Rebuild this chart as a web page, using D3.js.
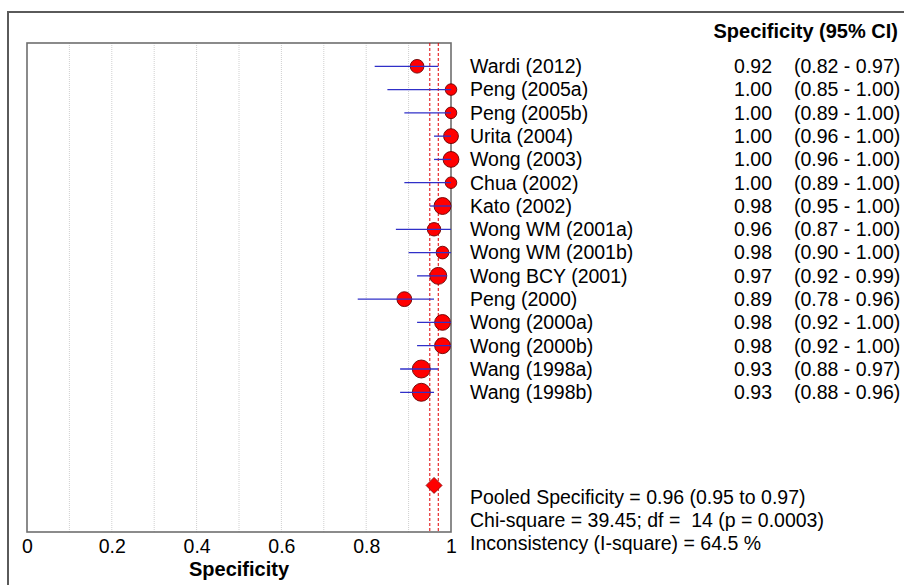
<!DOCTYPE html>
<html>
<head>
<meta charset="utf-8">
<script src="https://cdn.jsdelivr.net/npm/d3@7/dist/d3.min.js"></script>
<style>
  html, body { margin: 0; padding: 0; background: #fff; }
  svg { display: block; font-family: "Liberation Sans", Arial, sans-serif; }
</style>
</head>
<body>
<svg id="chart" width="904" height="585"></svg>
<script>
// ---- data ----
const studies = ["Wardi (2012)", "Peng (2005a)", "Peng (2005b)", "Urita (2004)", "Wong (2003)",
  "Chua (2002)", "Kato (2002)", "Wong WM (2001a)", "Wong WM (2001b)", "Wong BCY (2001)",
  "Peng (2000)", "Wong (2000a)", "Wong (2000b)", "Wang (1998a)", "Wang (1998b)"];
const specificity = [0.92, 1.00, 1.00, 1.00, 1.00, 1.00, 0.98, 0.96, 0.98, 0.97, 0.89, 0.98, 0.98, 0.93, 0.93];
const ciLower = [0.82, 0.85, 0.89, 0.96, 0.96, 0.89, 0.95, 0.87, 0.90, 0.92, 0.78, 0.92, 0.92, 0.88, 0.88];
const ciUpper = [0.97, 1.00, 1.00, 1.00, 1.00, 1.00, 1.00, 1.00, 1.00, 0.99, 0.96, 1.00, 1.00, 0.97, 0.96];
const weights = [5.6, 4.0, 4.0, 6.6, 7.5, 4.0, 8.6, 5.4, 4.8, 8.6, 6.6, 7.5, 7.5, 9.7, 9.7];
const pooled = 0.96, pooledLower = 0.95, pooledUpper = 0.97;
const xTicks = [0, 0.2, 0.4, 0.6, 0.8, 1];
const gridTicks = [0.1, 0.2, 0.3, 0.4, 0.5, 0.6, 0.7, 0.8, 0.9];
const headerText = "Specificity (95% CI)";
const axisTitle = "Specificity";
const footer = [
  "Pooled Specificity = 0.96 (0.95 to 0.97)",
  "Chi-square = 39.45; df =  14 (p = 0.0003)",
  "Inconsistency (I-square) = 64.5 %"
];

// ---- layout ----
const svg = d3.select("#chart");
const plot = { left: 27, right: 451, top: 43, bottom: 532 };
const x = d3.scaleLinear().domain([0, 1]).range([plot.left, plot.right]);
const y = d3.scaleLinear().domain([-1, 20]).range([plot.top, plot.bottom]);
const r = d3.scaleSqrt().domain([0, 9.7]).range([0, 9]);
const pooledRow = 18;
const fmt = d3.format(".2f");

// outer frame (top + left)
svg.append("path")
  .attr("d", "M8,590 L8,12 L910,12")
  .attr("fill", "none").attr("stroke", "#5a5a5a").attr("stroke-width", 2);

// grid lines
svg.append("g").selectAll("line").data(gridTicks).join("line")
  .attr("x1", d => x(d)).attr("x2", d => x(d))
  .attr("y1", plot.top).attr("y2", plot.bottom)
  .attr("stroke", "#cfcfcf").attr("stroke-width", 1)
  .attr("stroke-dasharray", "1,1");

// plot frame
svg.append("rect")
  .attr("x", plot.left).attr("y", plot.top)
  .attr("width", plot.right - plot.left).attr("height", plot.bottom - plot.top)
  .attr("fill", "none").attr("stroke", "#6e6e6e").attr("stroke-width", 1.6);

// pooled CI dashed red lines
svg.append("g").selectAll("line").data([pooledLower, pooledUpper]).join("line")
  .attr("x1", d => x(d)).attr("x2", d => x(d))
  .attr("y1", plot.top).attr("y2", plot.bottom)
  .attr("stroke", "#e00000").attr("stroke-width", 1)
  .attr("stroke-dasharray", "3,2");

// x axis
const xAxis = d3.axisBottom(x).tickValues(xTicks).tickSize(0).tickPadding(0)
  .tickFormat(d => d3.format("")(d));
const ax = svg.append("g").attr("transform", `translate(0,${plot.bottom})`).call(xAxis);
ax.select(".domain").remove();
ax.selectAll("text")
  .attr("y", 0).attr("dy", "0")
  .attr("transform", "translate(0,21)")
  .attr("font-size", 19.5).attr("fill", "#000")
  .attr("font-family", "Liberation Sans, Arial, sans-serif");

svg.append("text")
  .attr("x", x(0.5)).attr("y", 576)
  .attr("text-anchor", "middle")
  .attr("font-size", 20).attr("font-weight", "bold")
  .text(axisTitle);

// data rows
const rows = studies.map((s, i) => ({ s, i, v: specificity[i], lo: ciLower[i], hi: ciUpper[i], w: weights[i] }));

svg.append("g").selectAll("circle").data(rows).join("circle")
  .attr("cx", d => x(d.v)).attr("cy", d => y(d.i))
  .attr("r", d => r(d.w))
  .attr("fill", "#ff0000").attr("stroke", "#6a0000").attr("stroke-width", 0.9);

svg.append("g").selectAll("line").data(rows).join("line")
  .attr("x1", d => x(d.lo)).attr("x2", d => x(d.hi))
  .attr("y1", d => y(d.i)).attr("y2", d => y(d.i))
  .attr("stroke", "#3030c8").attr("stroke-width", 1.3);

// pooled diamond
const px = x(pooled), py = y(pooledRow), dh = 8;
svg.append("path")
  .attr("d", `M${px},${py - dh} L${px + dh},${py} L${px},${py + dh} L${px - dh},${py} Z`)
  .attr("fill", "#ff0000").attr("stroke", "#8a0000").attr("stroke-width", 0.8);

// text table
svg.append("text")
  .attr("x", 898).attr("y", 38)
  .attr("text-anchor", "end")
  .attr("font-size", 20).attr("font-weight", "bold")
  .text(headerText);

const tg = svg.append("g").attr("font-size", 19.5).attr("fill", "#000");
tg.selectAll("text.name").data(rows).join("text").attr("class", "name")
  .attr("x", 470).attr("y", d => y(d.i)).attr("dy", "0.35em")
  .text(d => d.s);
tg.selectAll("text.val").data(rows).join("text").attr("class", "val")
  .attr("x", 772).attr("y", d => y(d.i)).attr("dy", "0.35em")
  .attr("text-anchor", "end")
  .text(d => fmt(d.v));
tg.selectAll("text.ci").data(rows).join("text").attr("class", "ci")
  .attr("x", 794).attr("y", d => y(d.i)).attr("dy", "0.35em")
  .text(d => `(${fmt(d.lo)} - ${fmt(d.hi)})`);

tg.selectAll("text.foot").data(footer).join("text").attr("class", "foot")
  .attr("x", 470).attr("y", (d, k) => y(pooledRow + 0.5 + k)).attr("dy", "0.35em")
  .attr("xml:space", "preserve")
  .style("white-space", "pre")
  .text(d => d);
</script>
</body>
</html>
